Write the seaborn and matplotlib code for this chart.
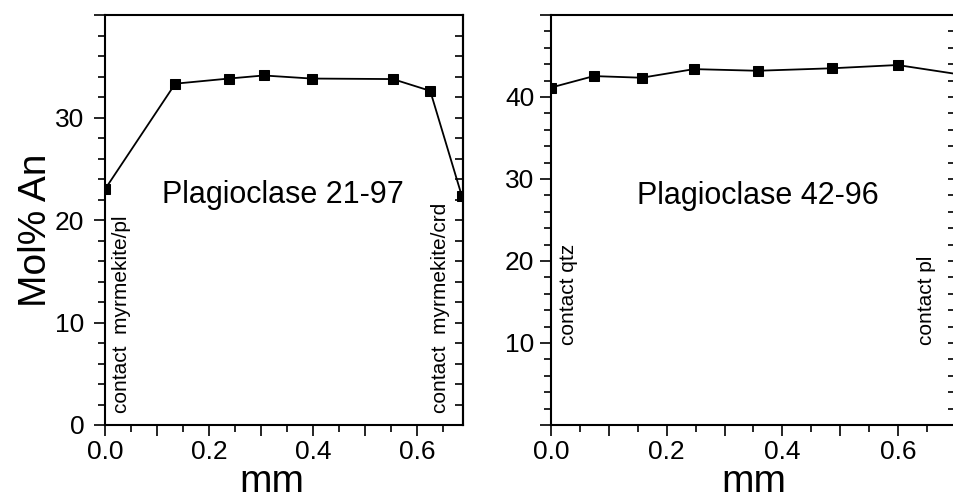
#
# Plagioclase An-content profiles (two grains)
#
import numpy as np
import matplotlib
matplotlib.use('Agg')
import matplotlib.pyplot as plt
import seaborn as sns
from matplotlib.ticker import MultipleLocator

# ---------------- data ----------------
# grain 21-97
x_2197 = [0.000, 0.135, 0.238, 0.305, 0.397, 0.553, 0.625, 0.686]
an_2197 = [23.0, 33.3, 33.8, 34.1, 33.8, 33.75, 32.6, 22.3]
# grain 42-96 (last point lies past the right edge)
x_4296 = [0.000, 0.074, 0.157, 0.247, 0.357, 0.485, 0.599, 0.720]
an_4296 = [41.15, 42.55, 42.35, 43.4, 43.2, 43.5, 43.9, 42.6]

title_l = 'Plagioclase 21-97'
title_r = 'Plagioclase 42-96'
notes_l = ['contact  myrmekite/pl', 'contact  myrmekite/crd']
notes_r = ['contact qtz', 'contact pl']

yt_l = [0, 10, 20, 30, 40]
ytl_l = ['0', '10', '20', '30', '']
yt_r = [0, 10, 20, 30, 40, 50]
ytl_r = ['', '10', '20', '30', '40', '']
xt = [0.0, 0.1, 0.2, 0.3, 0.4, 0.5, 0.6]
xtl = ['0.0', '', '0.2', '', '0.4', '', '0.6']

# ---------------- style ----------------
sns.set_style('ticks')
plt.rcParams['font.family'] = ['Liberation Sans', 'DejaVu Sans']
plt.rcParams['text.color'] = 'black'
plt.rcParams['axes.labelcolor'] = 'black'
plt.rcParams['xtick.color'] = 'black'
plt.rcParams['ytick.color'] = 'black'
plt.rcParams['axes.edgecolor'] = 'black'
tickfs = 19
labfs = 28

W, H = 954, 495
fig = plt.figure(figsize=(W/100, H/100), dpi=100)


def fig_rect(x0, x1, ytop, ybot):
    return [x0/W, (H-ybot)/H, (x1-x0)/W, (ybot-ytop)/H]


def style_axis(ax, yt, ytl, ypad):
    for s in ax.spines.values():
        s.set_linewidth(1.5)
        s.set_color('black')
    ax.set_xticks(xt)
    ax.set_xticklabels(xtl)
    ax.xaxis.set_minor_locator(MultipleLocator(0.05))
    ax.set_yticks(yt)
    ax.set_yticklabels(ytl)
    ax.yaxis.set_minor_locator(MultipleLocator(2))
    ax.tick_params(axis='both', which='major', direction='out', length=8,
                   width=1.2, color='black', labelcolor='black', labelsize=tickfs)
    ax.tick_params(axis='both', which='minor', direction='out', length=5,
                   width=1.2, color='black')
    ax.tick_params(axis='x', which='major', pad=3)
    ax.tick_params(axis='y', which='major', pad=ypad)
    # inward ticks on the right side
    sec = ax.secondary_yaxis('right')
    sec.set_yticks(yt)
    sec.yaxis.set_minor_locator(MultipleLocator(2))
    sec.tick_params(which='both', direction='in', length=6, width=1.2,
                    labelright=False, color='black')
    sec.spines['right'].set_linewidth(1.5)
    sec.spines['right'].set_color('black')


# ---------------- left panel ----------------
ax1 = fig.add_axes(fig_rect(105, 463, 15, 425))
sns.lineplot(x=x_2197, y=an_2197, ax=ax1, color='black', marker='s',
             markersize=7.5, markeredgecolor='black', linewidth=1.3, sort=False)
ax1.set_xlim(0, 0.688)
ax1.set_ylim(0, 40)
style_axis(ax1, yt_l, ytl_l, 7)
ax1.text(0.342, 21.7, title_l, fontsize=22, ha='center', va='baseline')
ax1.text(0.031, 1.2, notes_l[0], fontsize=15, rotation=90, ha='center', va='bottom')
ax1.text(0.644, 1.2, notes_l[1], fontsize=15, rotation=90, ha='center', va='bottom')
ax1.set_ylabel('Mol% An', fontsize=labfs)
ax1.yaxis.label.set_va('baseline')
ax1.yaxis.set_label_coords(-0.166, 0.474)
ax1.set_xlabel('mm', fontsize=labfs)
ax1.xaxis.label.set_va('baseline')
ax1.xaxis.set_label_coords(0.466, -0.164)

# ---------------- right panel ----------------
ax2 = fig.add_axes(fig_rect(551, 956, 15, 425))
sns.lineplot(x=x_4296, y=an_4296, ax=ax2, color='black', marker='s',
             markersize=7.5, markeredgecolor='black', linewidth=1.3, sort=False)
ax2.set_xlim(0, 0.70)
ax2.set_ylim(0, 50)
style_axis(ax2, yt_r, ytl_r, 4)
ax2.text(0.357, 27.0, title_r, fontsize=22, ha='center', va='baseline')
ax2.text(0.030, 9.7, notes_r[0], fontsize=15, rotation=90, ha='center', va='bottom')
ax2.text(0.649, 9.7, notes_r[1], fontsize=15, rotation=90, ha='center', va='bottom')
ax2.set_ylabel('')
ax2.set_xlabel('mm', fontsize=labfs)
ax2.xaxis.label.set_va('baseline')
ax2.xaxis.set_label_coords(0.501, -0.164)

plt.savefig('out.png', dpi=100)
plt.close()
